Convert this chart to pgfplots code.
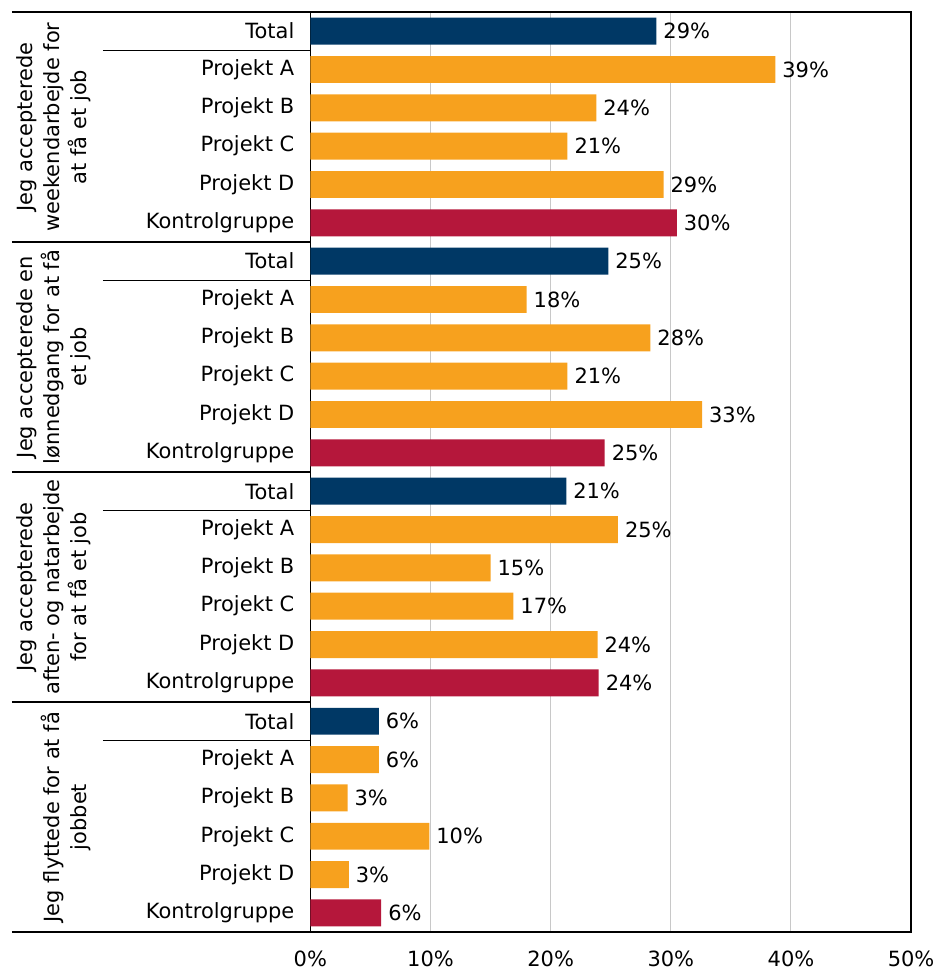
\documentclass[border=0pt]{standalone}
\usepackage{pgfplots}
\pgfplotsset{compat=1.18}
\usepackage{fontspec}
\setmainfont{DejaVu Sans}
\definecolor{navy}{HTML}{003865}
\definecolor{orng}{HTML}{F7A11E}
\definecolor{crim}{HTML}{B5173B}
\definecolor{gridgray}{HTML}{C8C8C8}
\tikzset{sep/.style={black, line width=0.6pt},
  grp/.style={rotate=90, anchor=south, inner sep=0pt, align=center,
    font=\fontsize{10.5}{13.5}\selectfont}}
\begin{document}
\begin{tikzpicture}[font=\fontsize{10.5}{13}\selectfont]
  \begin{axis}[
    xbar,
    scale only axis,
    width=301pt, height=461pt,
    xmin=0, xmax=50,
    ymin=-0.5, ymax=23.5,
    y dir=reverse,
    clip=false,
    bar width=13.5pt,
    axis line style={black, line width=0.8pt},
    xmajorgrids,
    grid style={gridgray, line width=0.5pt},
    major tick length=0pt,
    xtick={0,10,20,30,40,50},
    xticklabels={0\%,10\%,20\%,30\%,40\%,50\%},
    xticklabel style={inner sep=0pt, yshift=-9pt},
    ytick={0,...,23},
    yticklabels={Total,Projekt A,Projekt B,Projekt C,Projekt D,Kontrolgruppe,
                 Total,Projekt A,Projekt B,Projekt C,Projekt D,Kontrolgruppe,
                 Total,Projekt A,Projekt B,Projekt C,Projekt D,Kontrolgruppe,
                 Total,Projekt A,Projekt B,Projekt C,Projekt D,Kontrolgruppe},
    yticklabel style={xshift=-4.5pt},
    point meta=explicit symbolic,
    nodes near coords,
    nodes near coords style={anchor=west, black},
  ]
    % Total
    \addplot[fill=navy, draw=none, bar shift=0pt] coordinates {
      (28.8,0) [29\%]
      (24.8,6) [25\%]
      (21.3,12) [21\%]
      (5.7,18) [6\%]
    };
    % Projekt A-D
    \addplot[fill=orng, draw=none, bar shift=0pt] coordinates {
      (38.7,1) [39\%]
      (23.8,2) [24\%]
      (21.4,3) [21\%]
      (29.4,4) [29\%]
      (18.0,7) [18\%]
      (28.3,8) [28\%]
      (21.4,9) [21\%]
      (32.6,10) [33\%]
      (25.6,13) [25\%]
      (15.0,14) [15\%]
      (16.9,15) [17\%]
      (23.9,16) [24\%]
      (5.7,19) [6\%]
      (3.1,20) [3\%]
      (9.9,21) [10\%]
      (3.2,22) [3\%]
    };
    % Kontrolgruppe
    \addplot[fill=crim, draw=none, bar shift=0pt] coordinates {
      (30.5,5) [30\%]
      (24.5,11) [25\%]
      (24.0,17) [24\%]
      (5.9,23) [6\%]
    };
    % group separators
    \draw[sep] ([xshift=-149.5pt]axis cs:0,-0.5) -- (axis cs:0,-0.5);
    \draw[sep] ([xshift=-149.5pt]axis cs:0,5.5) -- (axis cs:0,5.5);
    \draw[sep] ([xshift=-149.5pt]axis cs:0,11.5) -- (axis cs:0,11.5);
    \draw[sep] ([xshift=-149.5pt]axis cs:0,17.5) -- (axis cs:0,17.5);
    \draw[sep] ([xshift=-149.5pt]axis cs:0,23.5) -- (axis cs:0,23.5);
    % lines under Total
    \draw[sep] ([xshift=-104pt]axis cs:0,0.5) -- (axis cs:0,0.5);
    \draw[sep] ([xshift=-104pt]axis cs:0,6.5) -- (axis cs:0,6.5);
    \draw[sep] ([xshift=-104pt]axis cs:0,12.5) -- (axis cs:0,12.5);
    \draw[sep] ([xshift=-104pt]axis cs:0,18.5) -- (axis cs:0,18.5);
    % group labels
    \node[grp] at ([xshift=-110pt]axis cs:0,2.5)
      {Jeg accepterede\\weekendarbejde for\\at få et job};
    \node[grp] at ([xshift=-110pt]axis cs:0,8.5)
      {Jeg accepterede en\\lønnedgang for at få\\et job};
    \node[grp] at ([xshift=-110pt]axis cs:0,14.5)
      {Jeg accepterede\\aften- og natarbejde\\for at få et job};
    \node[grp] at ([xshift=-110pt]axis cs:0,20.5)
      {Jeg flyttede for at få\\jobbet};
  \end{axis}
  \path ([xshift=-155.5pt,yshift=-19pt]current axis.south west)
    rectangle ([xshift=12.5pt,yshift=6pt]current axis.north east);
\end{tikzpicture}
\end{document}
